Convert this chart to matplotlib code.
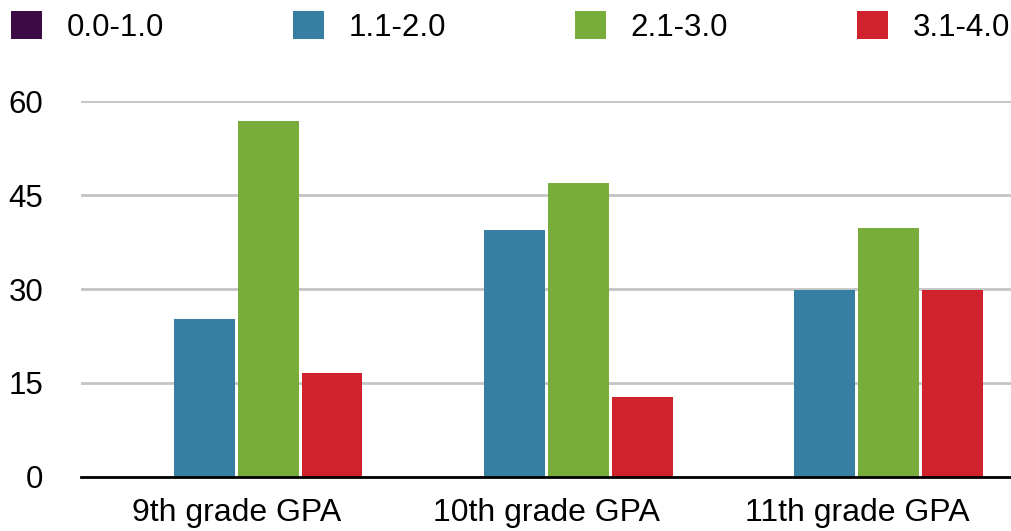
import matplotlib
matplotlib.use("Agg")
import matplotlib.pyplot as plt
import numpy as np

plt.rcParams["font.family"] = ["Liberation Sans", "DejaVu Sans"]

groups = ["9th grade GPA", "10th grade GPA", "11th grade GPA"]
series = ["0.0-1.0", "1.1-2.0", "2.1-3.0", "3.1-4.0"]
gpa_0_1 = [0, 0, 0]
gpa_1_2 = [25.3, 39.4, 29.9]
gpa_2_3 = [56.8, 47.0, 39.7]
gpa_3_4 = [16.6, 12.8, 29.9]
colors = ["#3c0a45", "#367ea2", "#79ad3b", "#d0222c"]
yticks = [0, 15, 30, 45, 60]

fig = plt.figure(figsize=(10.12, 5.31), dpi=100)
ax = fig.add_axes([0.08, 0.102, 0.92, 0.707])

x = np.arange(len(groups))
slot = 0.206
width = 0.196
handles = []
for i, (vals, col, name) in enumerate(zip([gpa_0_1, gpa_1_2, gpa_2_3, gpa_3_4], colors, series)):
    b = ax.bar(x + (i - 1.5) * slot, vals, width, color=col, label=name, zorder=3)
    handles.append(b)

ax.set_xlim(-0.5, 2.5)
ax.set_ylim(0, 60)
ax.set_yticks(yticks)
ax.set_xticks(x)
ax.set_xticklabels(groups)
ax.yaxis.grid(True, color="#c4c4c4", linewidth=2, zorder=0)
ax.set_axisbelow(True)
for s in ["top", "right", "left"]:
    ax.spines[s].set_visible(False)
ax.spines["bottom"].set_linewidth(2)
ax.spines["bottom"].set_color("black")
ax.spines["bottom"].set_zorder(4)
ax.tick_params(axis="y", length=0, pad=27, labelsize=22.5)
ax.tick_params(axis="x", length=0, pad=15, labelsize=23)

fig.legend(handles=handles, labels=series, loc="upper left",
           bbox_to_anchor=(11 / 1012, 1 - 11 / 531), ncol=4, frameon=False,
           fontsize=22.5, handlelength=1.0, handleheight=1.0, handletextpad=0.8,
           columnspacing=4.1, borderaxespad=0, borderpad=0)

fig.savefig("out.png", dpi=100)
